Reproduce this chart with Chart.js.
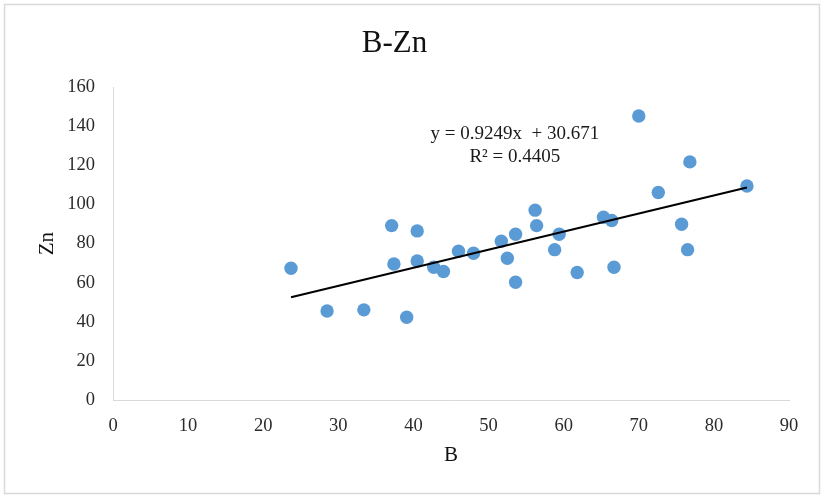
<!DOCTYPE html>
<html>
<head>
<meta charset="utf-8">
<script src="https://cdn.jsdelivr.net/npm/chart.js@4"></script>
<style>
  html, body { margin: 0; padding: 0; background: #fff; }
  #wrap { width: 824px; height: 497px; }
</style>
</head>
<body>
<div id="wrap"><canvas id="bznChart" width="824" height="497"></canvas></div>
<script>
// ================= DATA =================
const bValues = [23.7, 28.5, 33.4, 39.1, 37.1, 37.4, 40.5, 40.5, 42.7, 44.0,
                 46.0, 48.0, 51.7, 52.5, 53.6, 53.6, 56.2, 56.4, 58.8, 59.4,
                 61.8, 65.3, 66.4, 66.7, 70.0, 72.6, 75.7, 76.5, 76.8, 84.4];
const znValues = [67.4, 45.5, 46.1, 42.3, 89.2, 69.6, 86.5, 71.1, 67.9, 65.7,
                  76.1, 75.1, 81.2, 72.5, 84.8, 60.2, 97.1, 89.2, 76.9, 84.8,
                  65.2, 93.5, 91.8, 67.9, 145.3, 106.1, 89.9, 76.9, 121.8, 109.5];

// trendline end points
const trendB = [23.7, 84.4];
const trendZn = [52.6, 108.7];

const xTicks = [0, 10, 20, 30, 40, 50, 60, 70, 80, 90];
const yTicks = [0, 20, 40, 60, 80, 100, 120, 140, 160];

const equationLines = ['y = 0.9249x  + 30.671', 'R² = 0.4405'];

const SERIF = "'Liberation Serif', 'Times New Roman', serif";

// ================= PLUGINS =================
const frameAndText = {
    id: 'frameAndText',
    beforeDraw(chart) {
        const ctx = chart.ctx;
        ctx.save();
        ctx.fillStyle = '#ffffff';
        ctx.fillRect(0, 0, chart.width, chart.height);
        ctx.strokeStyle = '#d9d9d9';
        ctx.lineWidth = 1.5;
        ctx.strokeRect(4.5, 4.5, 815, 489);
        ctx.restore();
    },
    afterDraw(chart) {
        const ctx = chart.ctx;
        const xs = chart.scales.x;
        const ys = chart.scales.y;
        ctx.save();
        ctx.fillStyle = '#1a1a1a';
        ctx.font = '19px ' + SERIF;
        ctx.textAlign = 'center';
        ctx.textBaseline = 'middle';
        ctx.fillText(equationLines[0], xs.getPixelForValue(53.5), ys.getPixelForValue(136.3));
        ctx.fillText(equationLines[1], xs.getPixelForValue(53.5), ys.getPixelForValue(124.5));
        ctx.restore();
    }
};

// ================= CHART =================
function initChart() {
    const ctx = document.getElementById('bznChart');

    new Chart(ctx, {
        type: 'scatter',
        data: {
            datasets: [
                {
                    label: 'Zn',
                    data: bValues.map((b, i) => ({ x: b, y: znValues[i] })),
                    backgroundColor: '#5B9BD5',
                    borderColor: '#5B9BD5',
                    borderWidth: 0,
                    pointRadius: 6.7,
                    pointHoverRadius: 6.7,
                    order: 2
                },
                {
                    label: 'Linear (Zn)',
                    type: 'line',
                    data: trendB.map((b, i) => ({ x: b, y: trendZn[i] })),
                    borderColor: '#000000',
                    borderWidth: 2,
                    pointRadius: 0,
                    fill: false,
                    order: 1
                }
            ]
        },
        options: {
            responsive: false,
            animation: false,
            devicePixelRatio: 1,
            layout: { padding: { left: 0, right: 35, top: 0, bottom: 0 } },
            plugins: {
                legend: { display: false },
                tooltip: { enabled: false },
                title: {
                    display: true,
                    text: 'B-Zn',
                    color: '#111',
                    font: { family: SERIF, size: 31, weight: 'normal' },
                    padding: { top: 25, bottom: 25 }
                }
            },
            scales: {
                x: {
                    type: 'linear',
                    min: 0,
                    max: 90,
                    afterBuildTicks: s => { s.ticks = xTicks.map(v => ({ value: v })); },
                    afterFit: s => { s.height = 97; },
                    grid: { display: false, drawTicks: false },
                    border: { display: true, color: '#d9d9d9', width: 1 },
                    ticks: {
                        color: '#2b2b2b',
                        padding: 15,
                        font: { family: SERIF, size: 18.5 }
                    },
                    title: {
                        display: true,
                        text: 'B',
                        color: '#111',
                        font: { family: SERIF, size: 21 },
                        padding: { top: 0, bottom: 29 }
                    }
                },
                y: {
                    type: 'linear',
                    min: 0,
                    max: 160,
                    afterBuildTicks: s => { s.ticks = yTicks.map(v => ({ value: v })); },
                    afterFit: s => { s.width = 113; },
                    grid: { display: false, drawTicks: false },
                    border: { display: true, color: '#d9d9d9', width: 1 },
                    ticks: {
                        color: '#2b2b2b',
                        padding: 18,
                        font: { family: SERIF, size: 18.5 }
                    },
                    title: {
                        display: true,
                        text: 'Zn',
                        color: '#111',
                        font: { family: SERIF, size: 21 },
                        padding: { top: 35, bottom: 0 }
                    }
                }
            }
        },
        plugins: [frameAndText]
    });
}

initChart();
</script>
</body>
</html>
